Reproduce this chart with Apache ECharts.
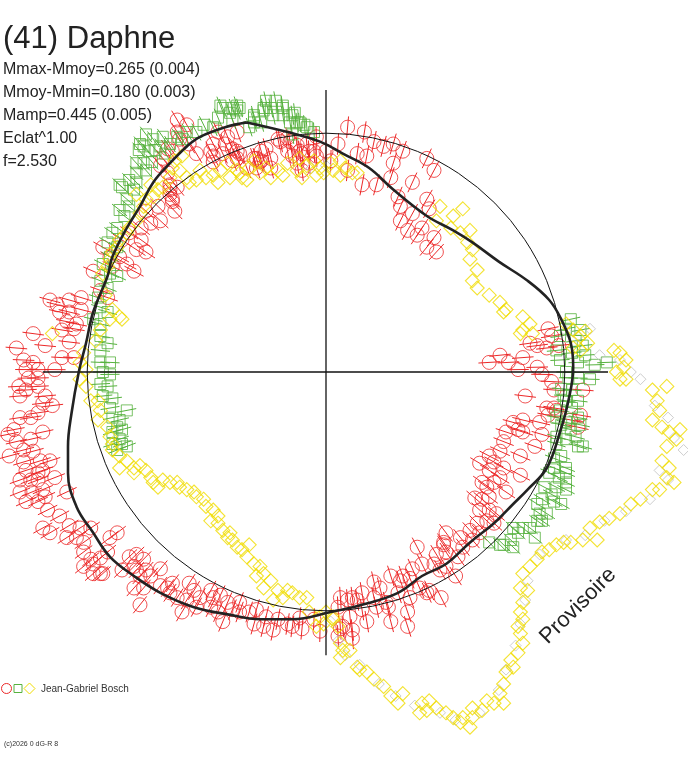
<!DOCTYPE html>
<html>
<head>
<meta charset="utf-8">
<script src="https://cdn.jsdelivr.net/npm/echarts@6/dist/echarts.min.js"></script>
<style>
html,body{margin:0;padding:0;background:#fff;}
#main{width:688px;height:768px;}
</style>
</head>
<body>
<div id="main"></div>
<script>
// unites : rayon du cercle de reference = 100
var circleR = 99.5;
var axisH = [[-118, 0], [117.5, 0]];
var axisV = [[0, 117.5], [0, -118]];

// courbe ajustee
var fitPts = [
    [-33,104],[-16,100],[-2.5,96],[7,91],[18,85],[28,76],[42,65],[53,59],[61,54],[72,46],[84,38],[93,30],
    [98,22],[102,12],[103,2],[101,-12],[97.5,-25],[92,-40],[84,-49],[78,-55],[70,-63],[60,-71],[50,-80],
    [40,-85],[30,-92],[15,-97],[2,-100],[-14,-103],[-27.5,-103],[-41,-101],[-55,-98],[-69,-92],[-80,-85],
    [-90,-77],[-97,-67],[-104,-56],[-107.5,-42],[-107.5,-31],[-106,-17],[-103,0],[-100,12],[-97,25],
    [-91,40],[-89,48],[-83,60],[-77.5,69],[-72,79],[-65,87],[-58,94],[-52.5,98],[-42,102],[-33,104]
];

// cercles rouges
var redPts = [
    [-62,105],[-61,97],[-57,95],[-47,95],[-45,100],[-41,98],[-37,100],[-36,91],[-39,88],[-33,85],[-27,88],[-47,90],
    [-43,91],[-54,91],[-42,95],[-37,92],[-27,92],[-25,93],[-29,89],[-20,97],[-15,96],[-16,92],[-10,91],[-7,92],
    [-4,98],[-4,90],[-8,95],[0,92],[5,95],[2,88],[-7,87],[-12,87],[-29,85],[-23,85],[-10,84],
    [-39,93],[-37,89],[-47,87.5],[-48,92],[-23,89],[-19,96],[-16,97.5],[-12,94.5],[-11,92],[-5,92],[-14,90],
    [-27.5,87.5],[-30,89],[-58,103],[-62,100],[-66,93],[-64,92],[-68,89],[-69,86],[-65,78],[-62,77],[-65,74],
    [-64,71],
    [9,102],[16,100],[20,96],[24,94],[28,95],[32,92],[42,89],[45,84],[36,79],[28,87],[27,81],[15,78],[21,78],
    [9,84],[13,91],[17,90],[30,73],[31,69],[36,66],[42,72],[43,68],[34,59],[38,57],[42,52],[40,60],[45,56],
    [31,63],[46,50],
    [-97,42],[-93,52],[-90,48],[-85,55],[-82,58],[-77,55],[-77,60],[-73,62],[-69,63],[-75,67],[-70,69],[-65,76],
    [-64,72],[-66,83],[-63,67],[-79,51],[-86,48],[-83,45],[-75,50],[-80,42],[-89,44],[-94,34],[-91,31],
    [-112,28],[-107,30],[-102,31],[-111,25],[-107,25],[-102,26],[-108,21],[-104,20],[-110,17.5],[-105,18],
    [-107,12.5],[-122,16],[-129,10],[-110,6],[-105,6],[-126,5],[-122,4],[-125,1],[-120,1],[-124,-2.5],
    [-120,-2.5],[-128,-6],[-125,-7.5],[-120,-6],[-117,-10],[-114,-14],[-118,-13],[-127.5,-10],[-127.5,-19],
    [-123,-19],[-120,-17],[-132.5,-26],[-129,-29],[-123,-28],[-118,-25],[-126,-32.5],[-122,-33],[-119,-37],
    [-126,-37.5],[-125,-41],[-120,-42],[-118,-41],[-127.5,-45],[-123,-45],[-120,-45],[-127.5,-50],
    [-122.5,-50],[-118,-49],[-125,-54],[-120,-54],[-108,-50],[-116,-57.5],[-111,-60],[-118,-65],[-115,-67],
    [-107,-64],[-102.5,-65],[-104,-69],[-101,-71],[-98,-65],[-87,-67],[-101,-75],[-97,-80],[-91,-75],
    [-94,-84],[-82,-77],[-80,-81],
    [-115,30],[-117,11],[-113,1],[-130,-24],[-132,-35],[-115,-37],[-113,-44],[-117,-52],
    [-108,-69],[-90,-69],[-98,-78],[-94,-77.5],[-101,-81],[-97,-84],[-93,-84],[-79,-76],[-76,-78],[-85,-82.5],
    [-79,-82.5],[-75,-82.5],[-69,-82],[-77.5,-85],[-73,-85],[-80,-90],[-76,-90],[-69,-89],[-66,-90],[-64,-88],
    [-77.5,-97],[-65,-92],[-62,-94],[-57,-88],[-55,-91],[-58,-95],[-52.5,-94],[-48,-91],[-47,-94],[-44,-93],
    [-60,-100],[-54,-98],[-48,-98],[-41,-96],[-36,-96],[-39,-99],[-45,-100],[-43,-104],[-36,-100],[-32,-100],
    [-29,-99],[-25,-102],[-30,-105],[-26,-106],[-20,-103],[-16,-105],[-22,-107.5],[-14,-106],[-11,-102.5],
    [-5,-103],[-10,-107],[6,-94],[9,-95],[11,-94],[7,-106],[11,-107.5],[-2.5,-108],
    [38,-73],[49,-72],[46,-76],[40,-80],[36,-82],[47.5,-82.5],[27,-85],[31,-87],[35,-86],[39,-90],[43,-91],
    [54,-85],[20,-87.5],[22.5,-90],[30,-92],[35,-94],[42,-92],[48,-94],[15,-92],[20,-94],[25,-96],[13,-95],
    [15,-99],[21,-98],[26,-98],[34,-100],[5,-98],[10,-102],[17,-104],[27,-104],[34,-106],[6,-107],[5,-110],
    [11,-111],
    [92,-15],[95,-15],[78,-21],[82,-20],[89,-21],[105,-23],[75,-25],[80,-24],[82,-25],[90,-26],[74,-29],
    [87,-31],[72.5,-33],[81,-35],[68,-35],[70,-37.5],[64,-38],[74,-40],[68,-41],[81,-43],[65,-46],[70,-46],
    [72.5,-44],[75,-50],[67,-48],[62,-52.5],[65,-53],[68,-52],[64,-57.5],[68,-57.5],[71,-59],[63,-63],
    [67,-62],[70,-63],[60,-66],[64,-67],[50,-67],[56,-69],[49,-71],[57,-73],[61,-70],[50,-75],[55,-77],
    [45,-80],[50,-81],[32,-85],
    [68,4],[72.5,7],[76,4],[80,1],[82,6],[85,12],[88,11],[92,10],[94,15],[97,11],[88,2],[90,-1],[94,-4],
    [95,-7.5],[83,-10],[92.5,-18],[96,-16],[92.5,18],[107,-7.5],[106,-18],[102,-20]
];

// carres verts
var greenPts = [
    [-43,110],[-39,110],[-37,111],[-30,106],[-30,104],[-45,106],[-47,102],[-51,103],[-54,100],[-58,100],
    [-60,97],[-62,98],[-65,95],[-68,98],[-69,94],[-67,91],[-71,92.5],[-74,92],[-77.5,95],[-76,87],[-79,87],
    [-72.5,87.5],[-79,83],[-75,84],[-82,80],[-85,77],[-79,79],[-80,76],[-83,72],[-82,69],[-86,67.5],[-84,65],
    [-87,60],[-89,58],[-91,54],[-87,52],[-90,48],[-93,45],[-90,41],[-87,40],[-40,108],[-36,110],[-39,105],
    [-26,109],[-23,110],[-22,107],[-18,110],[-18,107],[-13,108],[-12,104],[-9,103],[-15,104],[-14,99],
    [-32,102],[-27,104],[-75,99],[-78,92.5],[-72,97],[-25,113],[-21,113],
    [-44,111],[-37,109],[-30,107],[-26,110],[-18,111],[-14,107],[-11,104],[-8,102],[-5,100],[-86,78],[-76,94],
    [-94,38],[-91,35],[-95,31],[-94,27],[-91,25],[-97,22],[-94,20],[-94,15],[-91,12],[-94,9],[-94,4],[-90,4],
    [-93,0],[-90,-1],[-94,-5],[-91,-6],[-93,-10],[-89,-11],[-90,-15],[-83,-16],[-89,-19],[-86,-20],[-87,-23],
    [-89,-25],[-85,-24],[-86,-28],[-89,-30],[-83,-31],[-87,-32.5],[-85,-30],
    [100,18],[106,17.5],[97.5,15],[104,13],[107,11],[96,9],[102.5,8],[97.5,5],[105,4],[112,3],[117,4],[100,0],
    [105,-2.5],[110,-3],[98,-7],[102.5,-7.5],[100,-12],[105,-12],[97.5,-16],[102.5,-15],[105,-19],[96,-19],
    [98,-22],[102,-24],[104,-27],[100,-28],[96,-30],[105,-31],[107,-31],[98,-35],[95,-40],[100,-40],[97,-44],
    [100,-46],[93,-42],[91,-48],[96,-48],[100,-49],
    [102,22],[108,7],[101,-2.5],[99,-10],[106,-22],[94,-51],
    [100,-21],[96,-27],[95,-36],[100,-42],[90,-53],[95,-54],[98,-55],[88,-55],[89,-59],[92,-59],[88,-62],
    [90,-62],[85,-65],[82,-65],[78,-65],[80,-67],[77,-70],[74,-72],[78,-73],[87,-69],[68,-71],[72.5,-72]
];

// losanges jaunes
var yellowPts = [
    [-44,84],[-40,81],[-36,83],[-32,85],[-27.5,83],[-23,81],[-20,84],[-16,87],[-12,84],[-8,86],[-5,88],
    [-2.5,85],[2,87],[-1,83],[3,84],[-30,88],[-41,87],[13,83],[-54,80],[-50,81],[-45,79],[-35,81],[-64,85],
    [-61,84],[-58,81],[-57,79],[-65,81],[-68,77],[-70,76],[-72,73],[-75,72],[-76,69],[-77.5,66],[-79,63],
    [-82,60],[-83,58],[-86,55],[-87,52],[-89,50],[-90,47],[-91,44],[-93,41],[6,88],[8,85],[-11,89],
    [-52.5,84],[-47,82],[-37,84],[-33,80],[-25,85],[-18,82],[-10,81],[-4,82],[6,82],
    [-60,90],[-63,88],[-73,78],[-79,74],
    [-89,26],[-86,23],[-90,22],[-94,17.5],[-85,22],[-101,8],[-102.5,4],[-100,1],[-102.5,-3],[-100,-6],
    [-98,-12],[-95,-12],[-94,-16],[-95,-20],[-91,-23],[-90,-27],[-89,-30],[-89,-32.5],[-86,-35],[-83,-37],
    [-80,-40],[-86,-40],[-114,16],[-92,32],[-96,13],
    [-80,-42],[-75,-41],[-73,-44],[-72,-46],[-68,-45],[-65,-46],[-62,-46],[-58,-49],[-55,-50],[-54,-52],
    [-51,-53],[-50,-56],[-47,-57.5],[-48,-62],[-45,-63],[-43,-66],[-41,-69],[-39,-70],[-37,-73],[-35,-74],
    [-33,-77],[-30,-80],[-27.5,-81],[-26,-84],[-23,-87],[-26,-90],[-20,-91],[-16,-91],[-18,-94],[-14,-92],
    [-11,-94],[-8,-94],[-22,-95],[-7,-100],[-2.5,-102],[0,-100],[-1,-105],[3,-103],[-4,-106],[-77.5,-39],
    [-70,-48],[-61,-48],[-45,-60],[-40,-67],[-32,-72],[-29,-85],
    [11,83],[46,63],[47.5,69],[53,65],[57,68],[52,60],[56,58],[60,59],[59,54],[61,51],[60,47],[63,42.5],
    [61,38],[63,35],[68,32],[72.5,29],[75,26],[74,25],[82,23],[85,20],[82,17.5],[86,16],[81,16],[103,17.5],
    [106,15],[109,12],[103,10],[106,9],[122.5,8],[120,9],[125,5],[124,2],[121,0],[125,-3],[122.5,-3],
    [136,-7.5],[142,-6],[138,-12],[139,-16],[136,-20],[140,-23],[143,-25],[146,-28],[142,-31],[140,-37],
    [143,-40],[142,-44],[145,-46],[139,-49],[136,-49],[100,20],[108,17],[147.5,-24],
    [131,-53],[127,-55],[122.5,-59],[118,-61],[114,-62.5],[110,-65],[113,-70],[107,-70],[102,-71],[99,-71],
    [96,-72],[93,-74],[90,-75],[88,-78],[85,-81],[82,-84],[81,-90],[84,-91],[82,-96],[81,-100],[82,-103],
    [80,-106],[81,-109],[82,-113],[80,-117],[77,-120],[78,-123],[75,-125],[74,-130],[72.5,-134],[74,-138],
    [70,-138],[67,-137],[65,-141],[61,-140],[61,-144],[57,-144],[56,-146],[60,-148],[53,-144],[50,-142],
    [46,-140],[43,-137],[42,-141],[39,-142],[40,-138],[32,-134],[30,-138],[27,-135],[24,-131],[20,-128],
    [17,-125],[14,-124],[13,-123],[7,-116],[10,-116],[6,-119],[6,-113],[5,-106],[3,-102]
];

// losanges gris
var greyPts = [
    [0,86],[-6,85],[100,17],[105,15],[110,18],[122.5,5],[127,0],[137,-14],[142.5,-19],[145,-27.5],[149,-32.5],
    [139,-41],[142.5,-45],[135,-53],[125,-58],[116,-62],[108,-68],[100,-70],[89,-76],[84,-87],[83,-95],
    [81,-105],[79,-114],[75,-124],[72,-132.5],[64,-142],[54,-145],[47.5,-142],[37,-139],[29,-135],[22,-130],
    [14,-122],[8,-118],[5,-112],[2,-104],[114,7],[131,-3]
];

var RED = '#ec2828', GREEN = '#56b23e', YELLOW = '#f0dc00', GREY = '#c0c0c0';

var chart = echarts.init(document.getElementById('main'));

// barres d'erreur radiales
function radialBars(color, e) {
    return function (params, api) {
        var x = api.value(0), y = api.value(1);
        var r = Math.sqrt(x * x + y * y) || 1;
        var p1 = api.coord([x - x / r * e, y - y / r * e]);
        var p2 = api.coord([x + x / r * e, y + y / r * e]);
        return {
            type: 'line',
            shape: {x1: p1[0], y1: p1[1], x2: p2[0], y2: p2[1]},
            style: {stroke: color, lineWidth: 1}
        };
    };
}

function hollow(color, w) {
    return {color: 'rgba(0,0,0,0)', borderColor: color, borderWidth: w || 1};
}

var option = {
    animation: false,
    backgroundColor: '#ffffff',
    grid: {left: 0, right: 0, top: 0, bottom: 0},
    xAxis: {type: 'value', min: -135.83, max: 150.83, show: false},
    yAxis: {type: 'value', min: -165, max: 155, show: false},
    graphic: [
        {type: 'text', x: 3, y: 39.5, style: {text: '(41) Daphne', font: '31px "Liberation Sans", Arial, sans-serif', fill: '#222', verticalAlign: 'middle'}},
        {type: 'text', x: 3, y: 69.5, style: {text: 'Mmax-Mmoy=0.265 (0.004)', font: '16px "Liberation Sans", Arial, sans-serif', fill: '#222', verticalAlign: 'middle'}},
        {type: 'text', x: 3, y: 92.5, style: {text: 'Mmoy-Mmin=0.180 (0.003)', font: '16px "Liberation Sans", Arial, sans-serif', fill: '#222', verticalAlign: 'middle'}},
        {type: 'text', x: 3, y: 115.5, style: {text: 'Mamp=0.445 (0.005)', font: '16px "Liberation Sans", Arial, sans-serif', fill: '#222', verticalAlign: 'middle'}},
        {type: 'text', x: 3, y: 138.5, style: {text: 'Eclat^1.00', font: '16px "Liberation Sans", Arial, sans-serif', fill: '#222', verticalAlign: 'middle'}},
        {type: 'text', x: 3, y: 161.5, style: {text: 'f=2.530', font: '16px "Liberation Sans", Arial, sans-serif', fill: '#222', verticalAlign: 'middle'}},
        // legende
        {type: 'circle', shape: {cx: 6.5, cy: 688.5, r: 5}, style: {fill: 'none', stroke: RED, lineWidth: 1}},
        {type: 'rect', shape: {x: 14, y: 684.5, width: 8, height: 8}, style: {fill: 'none', stroke: GREEN, lineWidth: 1}},
        {type: 'polygon', shape: {points: [[29.5, 683], [35, 688.5], [29.5, 694], [24, 688.5]]}, style: {fill: 'none', stroke: YELLOW, lineWidth: 1}},
        {type: 'text', x: 41, y: 689, style: {text: 'Jean-Gabriel Bosch', font: '10px "Liberation Sans", Arial, sans-serif', fill: '#333', verticalAlign: 'middle'}},
        {type: 'text', x: 4, y: 744, style: {text: '(c)2026 0 dG-R 8', font: '7px "Liberation Sans", Arial, sans-serif', fill: '#333', verticalAlign: 'middle'}},
        {type: 'text', x: 578, y: 606, rotation: Math.PI / 4, style: {text: 'Provisoire', font: '22px "Liberation Sans", Arial, sans-serif', fill: '#222', align: 'center', verticalAlign: 'middle'}}
    ],
    series: [
        {type: 'custom', silent: true, z: 2, data: redPts, renderItem: radialBars(RED, 4.5)},
        {type: 'scatter', silent: true, z: 2, data: redPts, symbol: 'circle', symbolSize: 14, itemStyle: hollow(RED)},
        {type: 'custom', silent: true, z: 3, data: greenPts, renderItem: radialBars(GREEN, 4)},
        {type: 'scatter', silent: true, z: 3, data: greenPts, symbol: 'rect', symbolSize: 11, itemStyle: hollow(GREEN)},
        {type: 'scatter', silent: true, z: 4, data: greyPts, symbol: 'diamond', symbolSize: 11, itemStyle: hollow(GREY)},
        {type: 'scatter', silent: true, z: 5, data: yellowPts, symbol: 'diamond', symbolSize: 14, itemStyle: hollow(YELLOW, 1.1)},
        {
            type: 'custom', silent: true, z: 6, data: [[0, 0]],
            renderItem: function (params, api) {
                var c = api.coord([0, 0]);
                var s = api.size([circleR, circleR]);
                return {type: 'circle', shape: {cx: c[0], cy: c[1], r: s[0]}, style: {fill: 'none', stroke: '#111', lineWidth: 1}};
            }
        },
        {type: 'line', silent: true, z: 6, data: axisH, symbol: 'none', lineStyle: {color: '#111', width: 1.3}},
        {type: 'line', silent: true, z: 6, data: axisV, symbol: 'none', lineStyle: {color: '#111', width: 1.3}},
        {type: 'line', silent: true, z: 7, data: fitPts, symbol: 'none', smooth: 0.4, lineStyle: {color: '#222', width: 2.6}}
    ]
};

chart.setOption(option);
</script>
</body>
</html>
